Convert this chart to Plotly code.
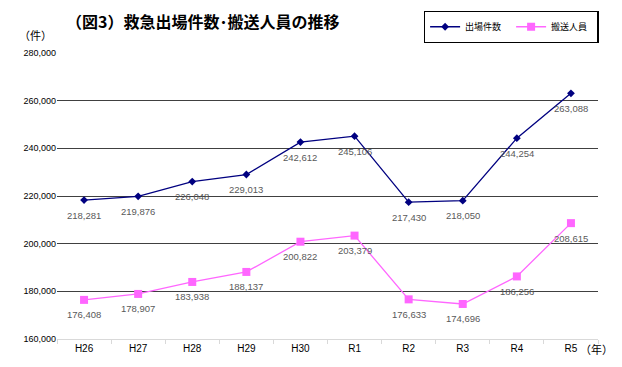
import plotly.graph_objects as go

years = ["H26", "H27", "H28", "H29", "H30", "R1", "R2", "R3", "R4", "R5"]
dispatches = [218281, 219876, 226048, 229013, 242612, 245106, 217430, 218050, 244254, 263088]
transported = [176408, 178907, 183938, 188137, 200822, 203379, 176633, 174696, 186256, 208615]
y_ticks = [160000, 180000, 200000, 220000, 240000, 260000, 280000]

NAVY = "#000080"
PINK = "#FF66FF"
LABEL_FONT = dict(family="Liberation Sans, Arial, sans-serif", size=9.5, color="#595959")

fig = go.Figure()
fig.add_trace(go.Scatter(
    x=years, y=dispatches, name="出場件数", mode="lines+markers",
    line=dict(color=NAVY, width=1.3),
    marker=dict(symbol="diamond", size=6, color=NAVY),
))
fig.add_trace(go.Scatter(
    x=years, y=transported, name="搬送人員", mode="lines+markers",
    line=dict(color=PINK, width=1.3),
    marker=dict(symbol="square", size=8, color=PINK),
))

annotations = []
for series in (dispatches, transported):
    for x, v in zip(years, series):
        annotations.append(dict(
            x=x, y=v, xref="x", yref="y", text=f"{v:,}", showarrow=False,
            yshift=-15, font=LABEL_FONT,
        ))

annotations.append(dict(
    x=0.269, y=1.113, xref="paper", yref="paper", xanchor="center", yanchor="middle",
    text="<b>（図3）救急出場件数･搬送人員の推移</b>", showarrow=False,
    font=dict(family="Noto Sans CJK JP", size=16, color="#000000"),
))
annotations.append(dict(
    x=-0.04, y=1.063, xref="paper", yref="paper", xanchor="center", yanchor="middle",
    text="（件）", showarrow=False,
    font=dict(family="Noto Sans CJK JP", size=11, color="#000000"),
))
annotations.append(dict(
    x=0.998, y=-0.035, xref="paper", yref="paper", xanchor="center", yanchor="middle",
    text="（年）", showarrow=False,
    font=dict(family="Noto Sans CJK JP", size=11, color="#000000"),
))

fig.update_layout(
    width=614, height=359,
    margin=dict(l=49, r=24, t=45, b=28, autoexpand=False),
    paper_bgcolor="white", plot_bgcolor="white",
    showlegend=True,
    legend=dict(
        orientation="h", x=0.678, y=1.147, xanchor="left", yanchor="top",
        bordercolor="#000000", borderwidth=1.3, bgcolor="white",
        font=dict(family="Noto Sans CJK JP", size=9, color="#000000"),
        itemwidth=30, entrywidth=41, tracegroupgap=0,
    ),
    annotations=annotations,
    xaxis=dict(
        type="category", showgrid=False, showline=True, linecolor="#D9D9D9", linewidth=1,
        ticks="outside", tickson="boundaries", ticklen=4, tickcolor="#D9D9D9",
        tickfont=dict(family="Liberation Sans, Arial, sans-serif", size=10, color="#000000"),
        range=[-0.5, 9.5],
    ),
    yaxis=dict(
        range=[160000, 280000], tickvals=y_ticks,
        ticktext=[f"{v:,}" for v in y_ticks],
        showgrid=True, gridcolor="#404040", gridwidth=1.3,
        zeroline=False, showline=False, ticks="",
        tickfont=dict(family="Liberation Sans, Arial, sans-serif", size=9, color="#000000"),
    ),
)

fig.write_html("out.html")
